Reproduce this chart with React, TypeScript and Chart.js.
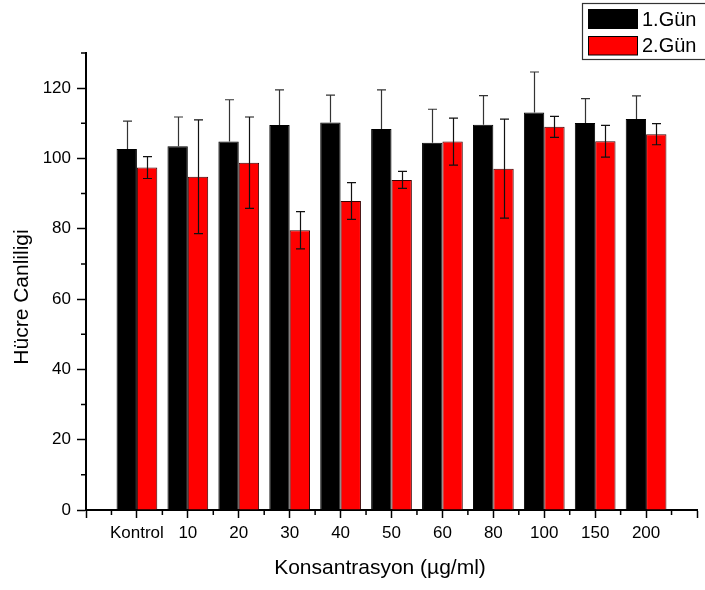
import React, { useEffect, useRef } from "react";
import { Chart, registerables } from "chart.js";

Chart.register(...registerables);

const categories = ["Kontrol", "10", "20", "30", "40", "50", "60", "80", "100", "150", "200"];
const day1Values = [102.7, 103.5, 104.8, 109.5, 110.2, 108.4, 104.5, 109.6, 113.1, 110.1, 111.2];
const day1Errors = [7.9, 8.3, 11.9, 10.0, 7.8, 11.1, 9.5, 8.3, 11.5, 6.9, 6.6];
const day2Values = [97.4, 94.8, 98.8, 79.6, 87.9, 93.9, 104.8, 97.1, 109.0, 104.9, 106.9];
const day2Errors = [3.1, 16.2, 13.0, 5.3, 5.2, 2.4, 6.7, 14.1, 3.0, 4.5, 3.0];
const seriesNames = ["1.Gün", "2.Gün"];
const yTickValues = [0, 20, 40, 60, 80, 100, 120];
const yMinorValues = [10, 30, 50, 70, 90, 110, 130];
const xTitle = "Konsantrasyon (µg/ml)";
const yTitle = "Hücre Canliligi";

const FONT = "'Liberation Sans', Arial, sans-serif";

// pad with empty slots at both ends (Origin-style axis range)
const labels = ["", ...categories, ""];
const pad = (a: number[]) => [null, ...a, null];

const errorBarsPlugin = {
  id: "errorBars",
  afterDatasetsDraw(chart: any) {
    const ctx = chart.ctx;
    const yScale = chart.scales.y;
    chart.data.datasets.forEach((ds: any, di: number) => {
      const meta = chart.getDatasetMeta(di);
      const dark = ds.backgroundColor === "#000000";
      meta.data.forEach((bar: any, i: number) => {
        const v = ds.data[i];
        const e = ds.errors ? ds.errors[i] : null;
        if (v == null || e == null) return;
        const x = Math.round(bar.x) + 0.5;
        const yt = yScale.getPixelForValue(v + e);
        const yb = yScale.getPixelForValue(v - e);
        const yv = yScale.getPixelForValue(v);
        ctx.save();
        ctx.strokeStyle = dark ? "#333" : "#111";
        ctx.lineWidth = 1.2;
        ctx.beginPath();
        ctx.moveTo(x, yt);
        ctx.lineTo(x, dark ? yv : yb);
        ctx.moveTo(x - 4.5, yt);
        ctx.lineTo(x + 4.5, yt);
        if (!dark) {
          ctx.moveTo(x - 4.5, yb);
          ctx.lineTo(x + 4.5, yb);
        }
        ctx.stroke();
        ctx.restore();
      });
    });
  },
};

const decorPlugin = {
  id: "decor",
  afterDraw(chart: any) {
    const ctx = chart.ctx;
    const xs = chart.scales.x;
    const ys = chart.scales.y;
    const area = chart.chartArea;
    ctx.save();
    ctx.strokeStyle = "#000";
    ctx.lineWidth = 1.5;
    // minor ticks x
    ctx.beginPath();
    for (let i = 0; i < labels.length - 1; i++) {
      const px = (xs.getPixelForValue(i) + xs.getPixelForValue(i + 1)) / 2;
      ctx.moveTo(px, area.bottom);
      ctx.lineTo(px, area.bottom + 5);
    }
    // minor ticks y
    yMinorValues.forEach((v) => {
      const py = ys.getPixelForValue(v);
      ctx.moveTo(area.left - 5, py);
      ctx.lineTo(area.left, py);
    });
    ctx.stroke();

    // axis titles
    ctx.fillStyle = "#000";
    ctx.font = `21px ${FONT}`;
    ctx.textAlign = "center";
    ctx.textBaseline = "middle";
    ctx.fillText(xTitle, 380, 568);
    ctx.save();
    ctx.translate(22, 297);
    ctx.rotate(-Math.PI / 2);
    ctx.fillText(yTitle, 0, 0);
    ctx.restore();

    // legend
    ctx.lineWidth = 1.2;
    ctx.strokeStyle = "#333";
    ctx.strokeRect(582.5, 3.5, 140, 56);
    const ds = chart.data.datasets;
    const rows = [
      { y: 9.5, h: 19 },
      { y: 36.5, h: 18.5 },
    ];
    rows.forEach((r, i) => {
      ctx.fillStyle = ds[i].backgroundColor;
      ctx.fillRect(588.5, r.y, 49, r.h);
      ctx.strokeStyle = "#000";
      ctx.lineWidth = 1;
      ctx.strokeRect(588.5, r.y, 49, r.h);
      ctx.fillStyle = "#000";
      ctx.font = `20px ${FONT}`;
      ctx.textAlign = "left";
      ctx.textBaseline = "middle";
      ctx.fillText(ds[i].label, 642, r.y + r.h / 2 + 1);
    });
    ctx.restore();
  },
};

export default function App() {
  const canvasRef = useRef<HTMLCanvasElement | null>(null);

  useEffect(() => {
    if (!canvasRef.current) return;
    Chart.defaults.font.family = FONT;
    Chart.defaults.color = "#000";
    const chart = new Chart(canvasRef.current, {
      type: "bar",
      data: {
        labels,
        datasets: [
          {
            label: seriesNames[0],
            data: pad(day1Values),
            errors: pad(day1Errors),
            backgroundColor: "#000000",
            borderColor: "#000000",
            borderWidth: 1,
          } as any,
          {
            label: seriesNames[1],
            data: pad(day2Values),
            errors: pad(day2Errors),
            backgroundColor: "#ff0000",
            borderColor: "#3a0000",
            borderWidth: 1,
          } as any,
        ],
      },
      options: {
        animation: false,
        responsive: false,
        devicePixelRatio: 1,
        layout: { padding: { top: 53, right: 8, left: 0, bottom: 0 } },
        plugins: {
          legend: { display: false },
          tooltip: { enabled: false },
          title: { display: false },
        },
        datasets: {
          bar: { categoryPercentage: 0.8, barPercentage: 1.0 },
        },
        scales: {
          x: {
            type: "category",
            offset: false,
            grid: {
              offset: false,
              display: true,
              drawOnChartArea: false,
              drawTicks: true,
              tickLength: 8,
              tickWidth: 1.5,
              tickColor: "#000",
            },
            border: { display: true, color: "#000", width: 2 },
            ticks: {
              autoSkip: false,
              maxRotation: 0,
              padding: 5,
              font: { size: 17, family: FONT },
              color: "#000",
            },
            afterFit: (s: any) => {
              s.height = 80;
            },
          },
          y: {
            type: "linear",
            min: 0,
            max: 130,
            grid: {
              display: true,
              drawOnChartArea: false,
              drawTicks: true,
              tickLength: 9,
              tickWidth: 1.5,
              tickColor: "#000",
            },
            border: { display: true, color: "#000", width: 2 },
            afterBuildTicks: (s: any) => {
              s.ticks = yTickValues.map((v) => ({ value: v }));
            },
            ticks: {
              padding: 6,
              font: { size: 17, family: FONT },
              color: "#000",
            },
            afterFit: (s: any) => {
              s.width = 86;
            },
          },
        },
      } as any,
      plugins: [errorBarsPlugin, decorPlugin],
    });
    return () => chart.destroy();
  }, []);

  return (
    <div style={{ position: "fixed", left: 0, top: 0, width: 705, height: 590, background: "#fff" }}>
      <canvas ref={canvasRef} width={705} height={590} />
    </div>
  );
}
